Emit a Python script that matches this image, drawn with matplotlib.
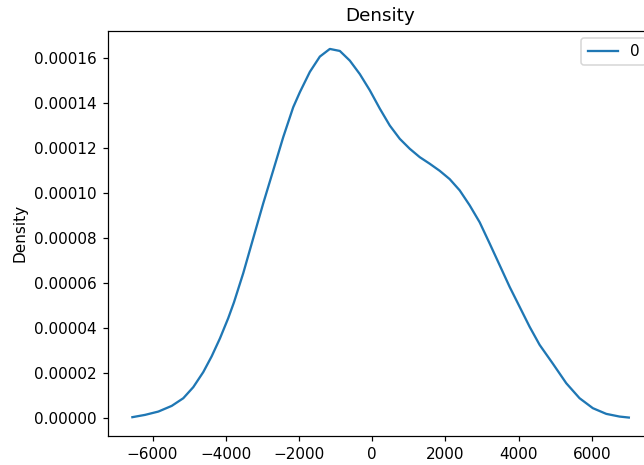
import numpy as np
import matplotlib
matplotlib.use("Agg")
import matplotlib.pyplot as plt

# density curve (x, density)
kde_x = [-6551, -6205, -5842, -5476, -5160, -4887, -4614, -4385, -4158, -3932,
         -3776, -3522, -3250, -2977, -2704, -2431, -2158, -1975, -1703, -1430,
         -1157, -884, -611, -338, -65, 207, 480, 753, 1026, 1299,
         1572, 1844, 2117, 2390, 2663, 2936, 3209, 3482, 3754, 4027,
         4300, 4573, 4936, 5301, 5664, 6027, 6393, 6756, 7010]
kde_y = [0.00000044, 0.00000146, 0.00000293, 0.00000546, 0.00000887,
         0.00001380, 0.00002050, 0.00002750, 0.00003550, 0.00004450,
         0.00005150, 0.00006450, 0.00008000, 0.00009550, 0.00011017,
         0.00012494, 0.00013826, 0.00014500, 0.00015400, 0.00016080,
         0.00016420, 0.00016330, 0.00015900, 0.00015300, 0.00014580,
         0.00013768, 0.00013014, 0.00012423, 0.00011980, 0.00011607,
         0.00011314, 0.00011000, 0.00010630, 0.00010130, 0.00009464,
         0.00008710, 0.00007765, 0.00006802, 0.00005839, 0.00004952,
         0.00004064, 0.00003260, 0.00002420, 0.00001553, 0.00000887,
         0.00000444, 0.00000191, 0.00000071, 0.00000027]
series_name = "0"

dpi = 110
fig = plt.figure(figsize=(644 / dpi, 465 / dpi), dpi=dpi)
# the original is cropped on the right, so the axes run past the figure edge
ax = fig.add_axes([0.167, 0.0624, 0.848, 0.872])
ax.plot(kde_x, kde_y, color="#1f77b4", linewidth=1.5, label=series_name)
ax.set_title("Density")
ax.set_ylabel("Density")
ax.set_xticks([-6000, -4000, -2000, 0, 2000, 4000, 6000])
ax.set_yticks(np.arange(0, 0.000161, 0.00002))
ax.legend(loc="upper right")

fig.savefig("out.png", dpi=dpi)
